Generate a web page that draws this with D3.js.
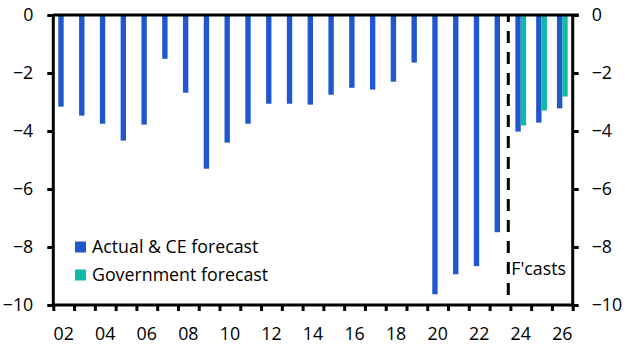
<!DOCTYPE html>
<html>
<head>
<meta charset="utf-8">
<script src="https://cdn.jsdelivr.net/npm/d3@7"></script>
<style>
  body { margin: 0; background: #fff; }
  text { font-family: "Open Sans", sans-serif; fill: #000; }
</style>
</head>
<body>
<div id="chart"></div>
<script>
// budget balance, % of GDP
var years = d3.range(2002, 2027);
var actualCE = [-3.16, -3.47, -3.75, -4.33, -3.78, -1.51, -2.68, -5.30, -4.40, -3.75,
                -3.06, -3.06, -3.09, -2.75, -2.51, -2.57, -2.30, -1.64, -9.63, -8.94,
                -8.66, -7.49, -4.02, -3.71, -3.22];
var govYears = [2024, 2025, 2026];
var govForecast = [-3.81, -3.29, -2.81];
var yTicks = [0, -2, -4, -6, -8, -10];
var seriesNames = ["Actual & CE forecast", "Government forecast"];
var colors = ["#1f57cd", "#10b9a6"];

var w = 629, h = 363;
var pLeft = 53.3, pRight = 572.7, pTop = 15, pBottom = 305;
var fs = 17.8;

var svg = d3.select("#chart").append("svg")
  .attr("width", w)
  .attr("height", h);

var x = d3.scaleBand().domain(years).range([pLeft, pRight]).padding(0);
var x1 = d3.scaleBand().domain([0, 1]).range([0, x.bandwidth()]).paddingOuter(0.93);
var xEdge = d3.scaleLinear().domain([2001.5, 2026.5]).range([pLeft, pRight]);
var y = d3.scaleLinear().domain([-10, 0]).range([pBottom, pTop]);

// bars
svg.append("g").selectAll("rect")
  .data(years.map(function(d, i) { return { year: d, v: actualCE[i] }; }))
  .join("rect")
  .attr("x", function(d) { return x(d.year) + x1(0); })
  .attr("width", x1.bandwidth())
  .attr("y", y(0))
  .attr("height", function(d) { return y(d.v) - y(0); })
  .attr("fill", colors[0]);

svg.append("g").selectAll("rect")
  .data(govYears.map(function(d, i) { return { year: d, v: govForecast[i] }; }))
  .join("rect")
  .attr("x", function(d) { return x(d.year) + x1(1); })
  .attr("width", x1.bandwidth())
  .attr("y", y(0))
  .attr("height", function(d) { return y(d.v) - y(0); })
  .attr("fill", colors[1]);

// forecast divider
var divX = xEdge(2023.4);
svg.append("line")
  .attr("x1", divX).attr("x2", divX)
  .attr("y1", y(0)).attr("y2", y(-10))
  .attr("stroke", "#000")
  .attr("stroke-width", 3)
  .attr("stroke-dasharray", "12,9")
  .attr("stroke-dashoffset", 5);

svg.append("text")
  .attr("x", divX + 3)
  .attr("y", y(-8.95))
  .attr("font-size", fs)
  .text("F'casts");

// axes
var yLeft = svg.append("g")
  .attr("transform", "translate(" + pLeft + ",0)")
  .call(d3.axisLeft(y).tickValues(yTicks).tickSize(6).tickPadding(14).tickFormat(d3.format("d")));
var yRight = svg.append("g")
  .attr("transform", "translate(" + pRight + ",0)")
  .call(d3.axisRight(y).tickValues(yTicks).tickSize(6).tickPadding(13).tickFormat(d3.format("d")));

var xTicks = svg.append("g")
  .attr("transform", "translate(0," + pBottom + ")")
  .call(d3.axisBottom(xEdge).tickValues(d3.range(2001.5, 2027, 1)).tickSize(6).tickFormat(""));
var xLabels = svg.append("g")
  .attr("transform", "translate(0," + pBottom + ")")
  .call(d3.axisBottom(x)
    .tickValues(years.filter(function(d) { return d % 2 === 0; }))
    .tickSize(0).tickPadding(22)
    .tickFormat(function(d) { return d3.format("02d")(d % 100); }));

svg.append("line")
  .attr("x1", pLeft).attr("x2", pRight + 6)
  .attr("y1", y(0)).attr("y2", y(0))
  .attr("stroke", "#000").attr("stroke-width", 3);

[yLeft, yRight, xTicks, xLabels].forEach(function(g) {
  g.select(".domain").attr("stroke-width", 3);
  g.selectAll(".tick line").attr("stroke-width", 3);
  g.selectAll(".tick text").attr("font-size", fs).attr("font-family", "Open Sans").attr("fill", "#000");
});
xLabels.select(".domain").remove();
yLeft.select(".domain").attr("d", "M0," + pTop + "V" + pBottom);
yRight.select(".domain").attr("d", "M0," + pTop + "V" + pBottom);
xTicks.select(".domain").attr("d", "M" + pLeft + ",0H" + pRight);

// legend
var legend = svg.append("g").selectAll("g")
  .data(seriesNames)
  .join("g")
  .attr("transform", function(d, i) { return "translate(75," + (241.5 + i * 28) + ")"; });
legend.append("rect")
  .attr("width", 11).attr("height", 11)
  .attr("fill", function(d, i) { return colors[i]; });
legend.append("text")
  .attr("x", 17).attr("y", 11.5)
  .attr("font-size", fs)
  .text(function(d) { return d; });
</script>
</body>
</html>
